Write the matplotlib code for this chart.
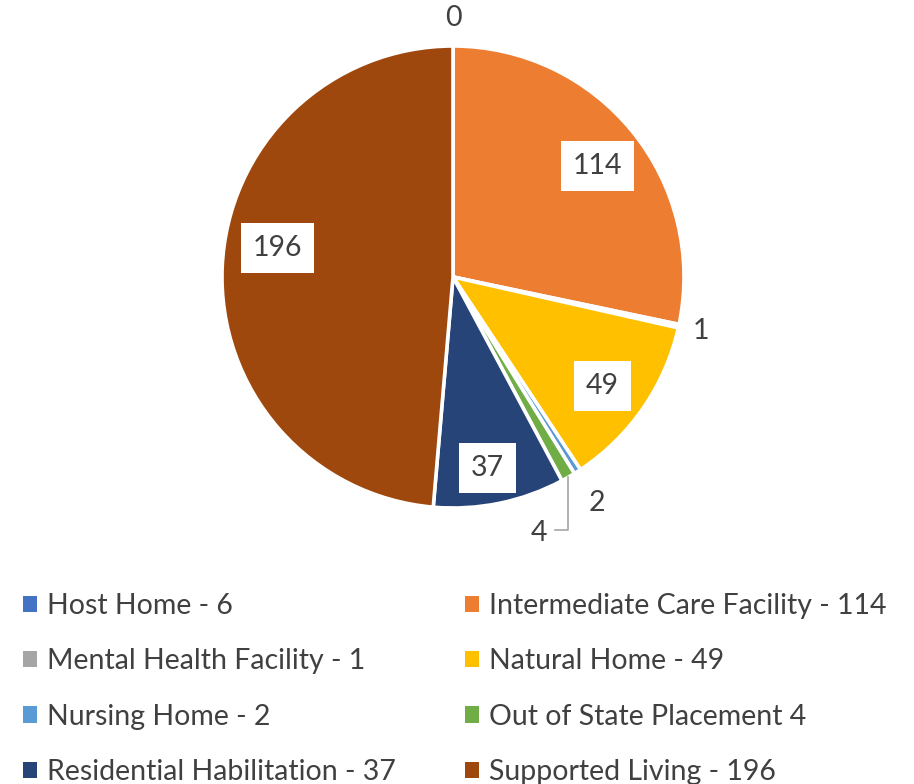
import matplotlib
matplotlib.use("Agg")
import matplotlib.pyplot as plt
import numpy as np
from matplotlib.patches import Patch

categories = ["Host Home", "Intermediate Care Facility", "Mental Health Facility",
              "Natural Home", "Nursing Home", "Out of State Placement",
              "Residential Habilitation", "Supported Living"]
values = [0, 114, 1, 49, 2, 4, 37, 196]
legend_labels = ["Host Home - 6", "Intermediate Care Facility - 114",
                 "Mental Health Facility - 1", "Natural Home - 49",
                 "Nursing Home - 2", "Out of State Placement 4",
                 "Residential Habilitation - 37", "Supported Living - 196"]
colors = ["#4472C4", "#ED7D31", "#A5A5A5", "#FFC000", "#5B9BD5", "#70AD47",
          "#264478", "#9E480E"]

FONT = ["Lato", "DejaVu Sans"]
plt.rcParams['font.family'] = FONT
TXT = "#404040"

fig = plt.figure(figsize=(9.14, 7.84), dpi=100)
cx, cy, R = 453, 277, 231
W, H = 914, 784
aw = 2.5 * R
ax = fig.add_axes([(cx - aw / 2) / W, (H - cy - aw / 2) / H, aw / W, aw / H])

wedges, _ = ax.pie(values, colors=colors, startangle=90, counterclock=False,
                   wedgeprops=dict(edgecolor="white", linewidth=2.6))
ax.set_xlim(-1.25, 1.25)
ax.set_ylim(-1.25, 1.25)
ax.set_aspect("equal")

fs = 20.5
# label radius and angular offset (degrees)
inside = {1: (0.79, -1.5), 3: (0.80, -1.5), 6: (0.84, -1.5), 7: (0.77, -7.0)}
outside = {0: 1.12, 2: 1.10, 4: 1.16}
for i, w in enumerate(wedges):
    mid_deg = (w.theta1 + w.theta2) / 2
    if i in inside:
        r, off = inside[i]
        mid = np.deg2rad(mid_deg + off)
        ax.text(r * np.cos(mid), r * np.sin(mid), str(values[i]), ha="center", va="center",
                fontsize=fs, color=TXT,
                bbox=dict(boxstyle="square,pad=0.42", fc="white", ec="none"))
    elif i in outside:
        r = outside[i]
        mid = np.deg2rad(mid_deg)
        ax.text(r * np.cos(mid), r * np.sin(mid), str(values[i]), ha="center", va="center",
                fontsize=fs, color=TXT)

# leader line for Out of State Placement (index 5)
w = wedges[5]
mid = np.deg2rad((w.theta1 + w.theta2) / 2)
x0, y0 = 1.0 * np.cos(mid), 1.0 * np.sin(mid)
yl = -(530 - cy) / R
xl = (555 - cx) / R
ax.plot([x0, x0, xl], [y0, yl, yl], color="#A6A6A6", lw=1.2, clip_on=False)
ax.text((539 - cx) / R, -(533 - cy) / R, str(values[5]), ha="center", va="center",
        fontsize=fs, color=TXT)

# legend: two columns, row-wise order
cols = [[0, 2, 4, 6], [1, 3, 5, 7]]
xs = [23, 465]
for col, x in zip(cols, xs):
    handles = [Patch(facecolor=colors[i], edgecolor="none") for i in col]
    labels = [legend_labels[i] for i in col]
    leg = fig.legend(handles, labels, loc="upper left",
                     bbox_to_anchor=(x / W, 1 - 593 / H), frameon=False,
                     fontsize=fs, labelcolor=TXT, handlelength=0.5, handleheight=0.5,
                     handletextpad=0.35, labelspacing=1.03, borderpad=0, borderaxespad=0)

fig.savefig("out.png", dpi=100, facecolor="white")
